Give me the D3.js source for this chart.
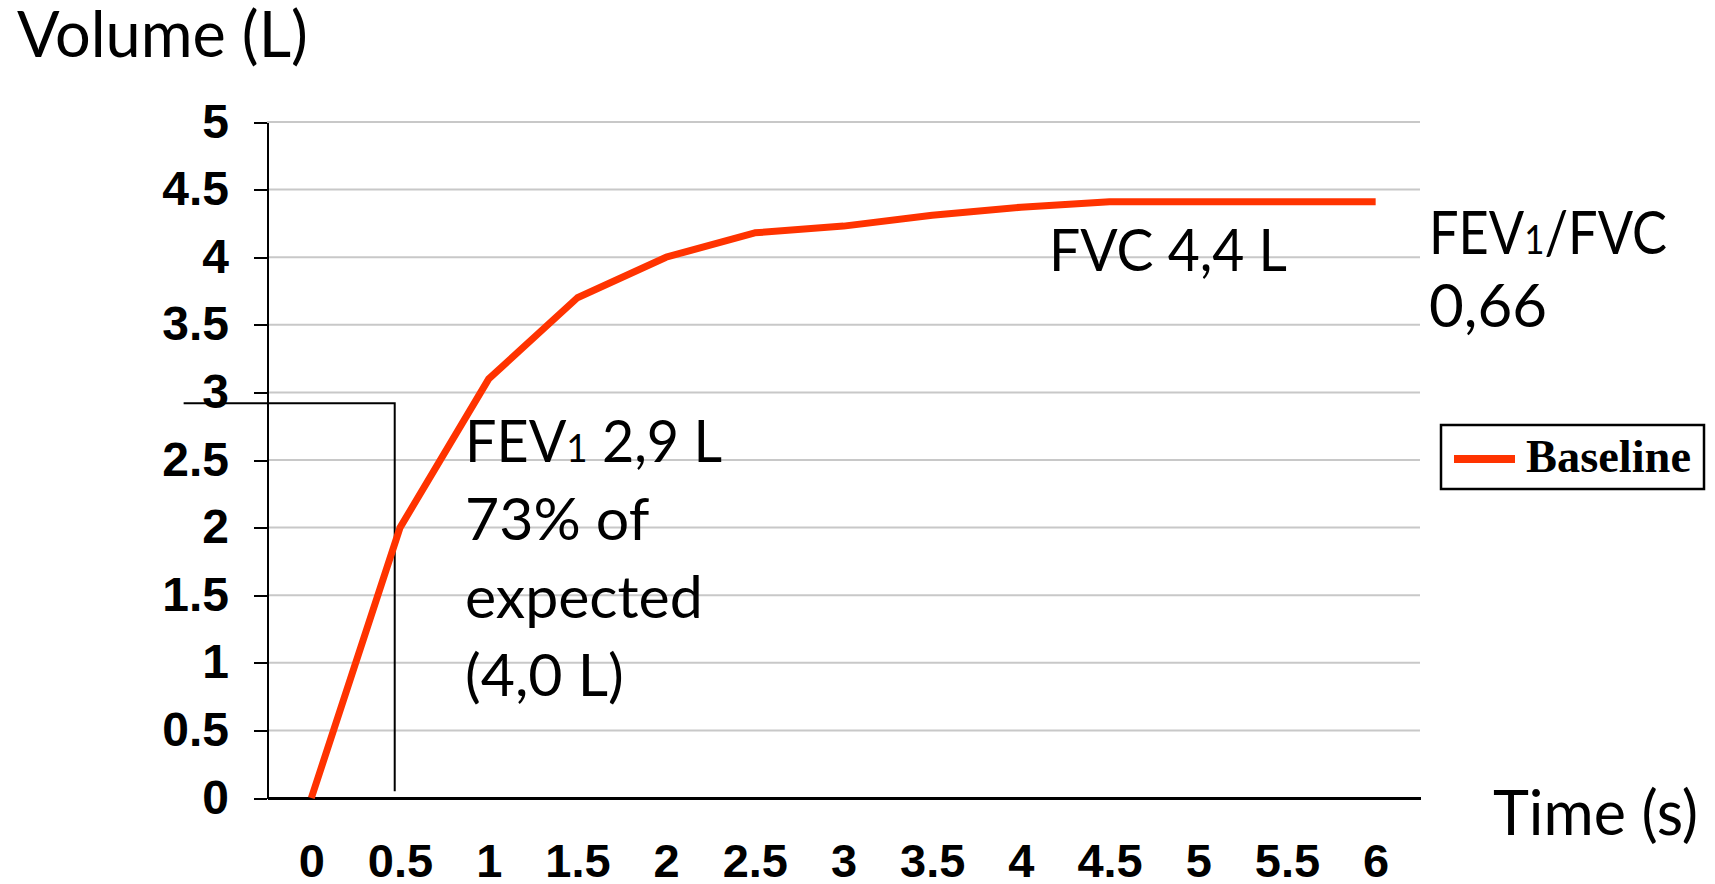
<!DOCTYPE html>
<html>
<head>
<meta charset="utf-8">
<script src="https://cdn.jsdelivr.net/npm/d3@7"></script>
<style>
  html, body { margin: 0; padding: 0; background: #fff; }
  svg { display: block; }
  .note { font-family: Lato, "Noto Sans", sans-serif; fill: #000; }
</style>
</head>
<body>
<svg id="chart" width="1715" height="884"></svg>
<script>
// spirometry curve, time in seconds vs volume in litres
const timeLabels = ["0", "0.5", "1", "1.5", "2", "2.5", "3", "3.5", "4", "4.5", "5", "5.5", "6"];
const baselineVolume = [0, 2.0, 3.1, 3.7, 4.0, 4.18, 4.23, 4.31, 4.37, 4.41, 4.41, 4.41, 4.41];
const volumeTicks = [0, 0.5, 1, 1.5, 2, 2.5, 3, 3.5, 4, 4.5, 5];
const seriesName = "Baseline";

// FEV1 guide (value in L, time span in s)
const fev1Volume = 2.92;
const fev1Time = 0.47;
const fev1GuideStart = -0.72;
const fev1GuideFloor = 0.05;

const fev1Text = ["2,9 L", "73% of", "expected", "(4,0 L)"];
const fvcText = "FVC 4,4 L";
const ratioText = ["/FVC", "0,66"];

const COLORS = { line: "#ff3300", grid: "#c8c8c8", axis: "#000" };

const svg = d3.select("#chart");
const plot = { left: 267, right: 1420, top: 122, bottom: 798 };

const xScale = d3
  .scalePoint()
  .domain(timeLabels)
  .range([plot.left, plot.right])
  .padding(0.5);
const yScale = d3
  .scaleLinear()
  .domain([0, 5])
  .range([plot.bottom, plot.top]);
// numeric time -> pixel, through the point scale's ends
const tScale = d3
  .scaleLinear()
  .domain([+timeLabels[0], +timeLabels[timeLabels.length - 1]])
  .range([xScale(timeLabels[0]), xScale(timeLabels[timeLabels.length - 1])]);

// Grid
svg
  .append("g")
  .selectAll("line")
  .data(volumeTicks.filter((d) => d > 0))
  .join("line")
  .attr("x1", plot.left)
  .attr("x2", plot.right)
  .attr("y1", (d) => yScale(d))
  .attr("y2", (d) => yScale(d))
  .attr("stroke", COLORS.grid)
  .attr("stroke-width", 2);

// Axes
const yAxis = svg
  .append("g")
  .attr("transform", `translate(${plot.left},0)`)
  .call(
    d3
      .axisLeft(yScale)
      .tickValues(volumeTicks)
      .tickFormat((d) => d3.format("")(d))
      .tickSize(13)
      .tickSizeOuter(0)
      .tickPadding(25),
  );
yAxis.select(".domain").attr("stroke", COLORS.axis).attr("stroke-width", 2);
yAxis.selectAll(".tick line").attr("stroke", COLORS.axis).attr("stroke-width", 2);
yAxis
  .selectAll(".tick text")
  .attr("dy", 15)
  .attr("x", -38)
  .style("font-family", "'Liberation Sans', Arial, sans-serif")
  .style("font-weight", "bold")
  .style("font-size", "48px")
  .attr("fill", "#000");

const xAxis = svg
  .append("g")
  .attr("transform", `translate(0,${plot.bottom})`)
  .call(d3.axisBottom(xScale).tickSize(0).tickSizeOuter(0));
xAxis.select(".domain").attr("stroke", COLORS.axis).attr("stroke-width", 3);
xAxis
  .selectAll(".tick text")
  .attr("y", 79)
  .attr("dy", 0)
  .style("font-family", "'Liberation Sans', Arial, sans-serif")
  .style("font-weight", "bold")
  .style("font-size", "47px")
  .attr("fill", "#000");
svg.selectAll(".domain, .tick line").attr("shape-rendering", "crispEdges");

// FEV1 guide lines
const guide = d3.line().x((d) => tScale(d[0])).y((d) => yScale(d[1]));
svg
  .append("path")
  .attr("d", guide([
    [fev1GuideStart, fev1Volume],
    [fev1Time, fev1Volume],
    [fev1Time, fev1GuideFloor],
  ]))
  .attr("fill", "none")
  .attr("stroke", "#000")
  .attr("stroke-width", 2);

// Data line
const line = d3
  .line()
  .x((d, i) => xScale(timeLabels[i]))
  .y((d) => yScale(d));
svg
  .append("path")
  .datum(baselineVolume)
  .attr("d", line)
  .attr("fill", "none")
  .attr("stroke", COLORS.line)
  .attr("stroke-width", 7)
  .attr("stroke-linejoin", "round");

// Axis titles
svg.append("text").attr("class", "note").attr("x", 17).attr("y", 57)
  .style("font-size", "63px").text("Volume (L)");
svg.append("text").attr("class", "note").attr("x", 1493).attr("y", 835)
  .style("font-size", "61px").text("Time (s)");

// Annotations
const fev1Head = svg.append("text").attr("class", "note")
  .attr("x", 465).attr("y", 462)
  .attr("textLength", 257).attr("lengthAdjust", "spacingAndGlyphs")
  .style("font-size", "59px");
fev1Head.append("tspan").text("FEV");
fev1Head.append("tspan").style("font-size", "39px").text("1");
fev1Head.append("tspan").text(" " + fev1Text[0]);

svg.append("g")
  .selectAll("text")
  .data(fev1Text.slice(1))
  .join("text")
  .attr("class", "note")
  .attr("x", 465)
  .attr("y", (d, i) => 540 + i * 78)
  .style("font-size", "59px")
  .text((d) => d);

svg.append("text").attr("class", "note").attr("x", 1049).attr("y", 271)
  .attr("textLength", 238).attr("lengthAdjust", "spacingAndGlyphs")
  .style("font-size", "59px").text(fvcText);

const ratioHead = svg.append("text").attr("class", "note")
  .attr("x", 1429).attr("y", 254)
  .attr("textLength", 238).attr("lengthAdjust", "spacingAndGlyphs")
  .style("font-size", "60px");
ratioHead.append("tspan").text("FEV");
ratioHead.append("tspan").style("font-size", "40px").text("1");
ratioHead.append("tspan").text(ratioText[0]);
svg.append("text").attr("class", "note").attr("x", 1429).attr("y", 327)
  .style("font-size", "60px").text(ratioText[1]);

// Legend
const legend = svg.append("g").attr("transform", "translate(1441,425)");
legend
  .append("rect")
  .attr("width", 263)
  .attr("height", 64)
  .attr("fill", "#fff")
  .attr("stroke", "#000")
  .attr("stroke-width", 2.5);
legend
  .append("line")
  .attr("x1", 13)
  .attr("x2", 74)
  .attr("y1", 34)
  .attr("y2", 34)
  .attr("stroke", COLORS.line)
  .attr("stroke-width", 8);
legend
  .append("text")
  .attr("x", 85)
  .attr("y", 47)
  .attr("textLength", 165)
  .attr("lengthAdjust", "spacingAndGlyphs")
  .style("font-family", "'Liberation Serif', 'Times New Roman', serif")
  .style("font-weight", "bold")
  .style("font-size", "47px")
  .text(seriesName);
</script>
</body>
</html>
